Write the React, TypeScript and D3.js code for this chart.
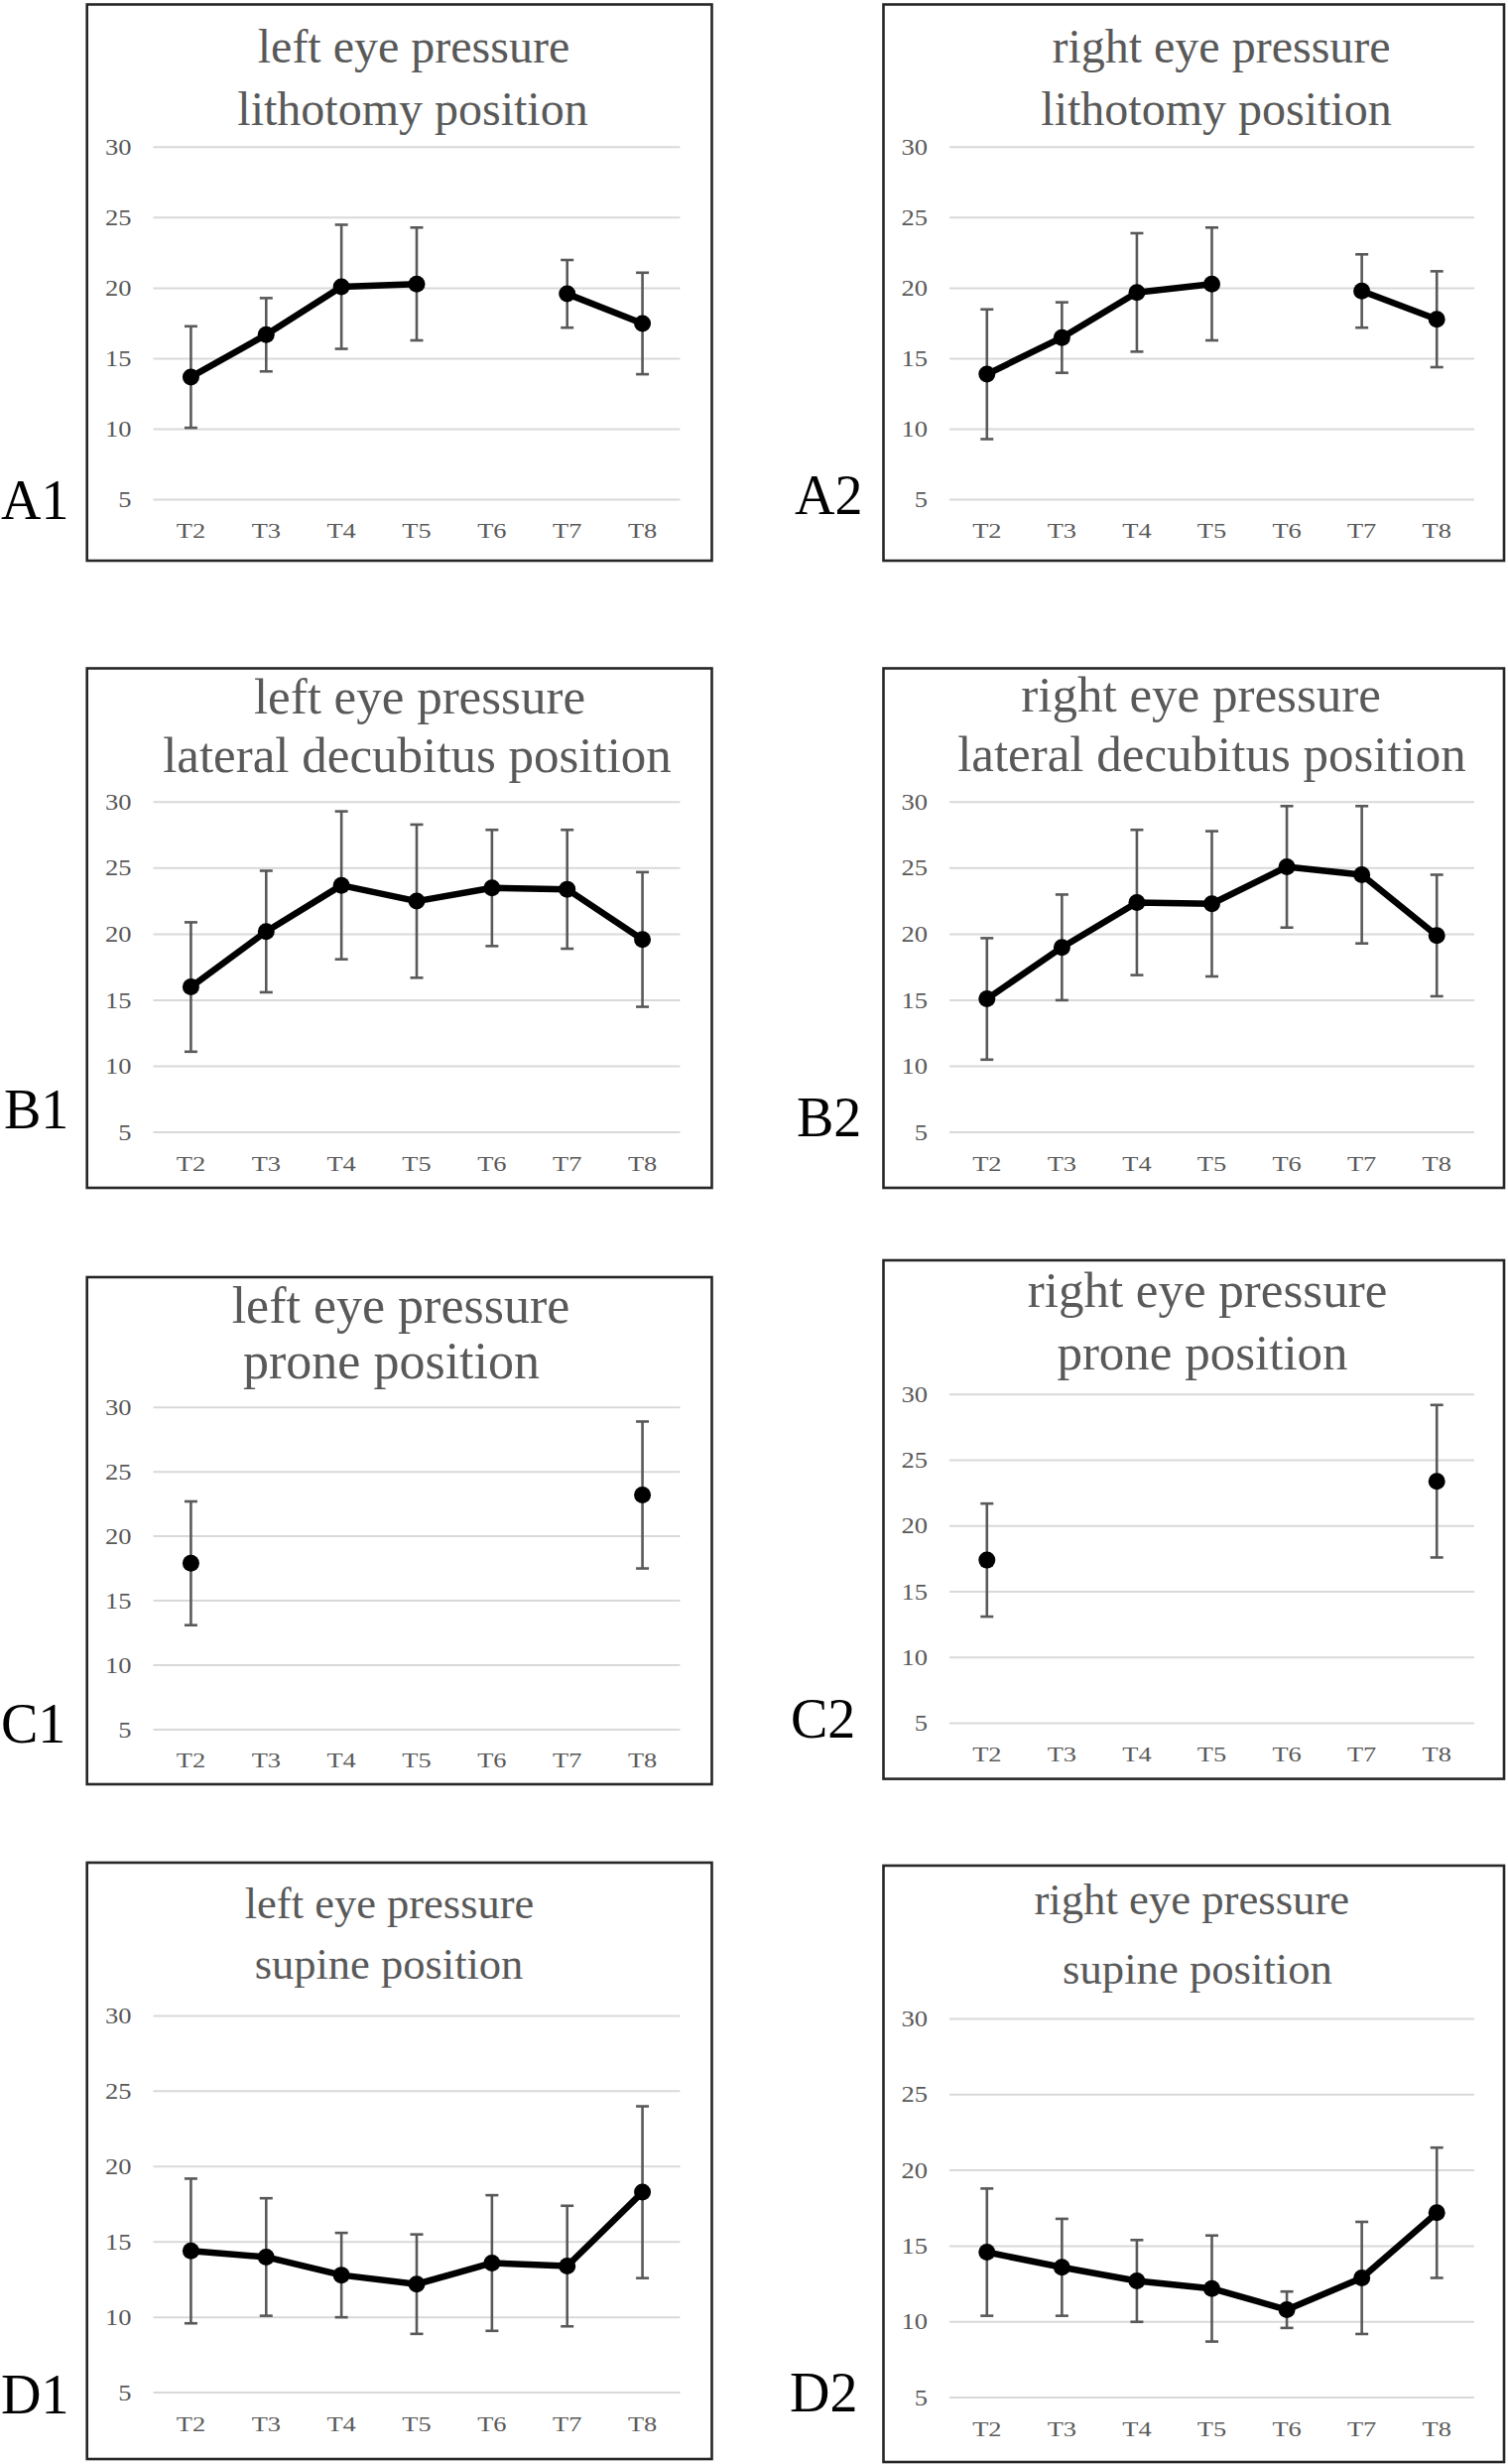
import React from "react";
import * as d3 from "d3";

const categories = ["T2", "T3", "T4", "T5", "T6", "T7", "T8"];
const yTicks = [5, 10, 15, 20, 25, 30];

// A: lithotomy position
const a1Mean = [13.7, 16.7, 20.1, 20.3, null, 19.6, 17.5];
const a1Sd = [3.6, 2.6, 4.4, 4.0, null, 2.4, 3.6];
const a2Mean = [13.9, 16.5, 19.7, 20.3, null, 19.8, 17.8];
const a2Sd = [4.6, 2.5, 4.2, 4.0, null, 2.6, 3.4];
// B: lateral decubitus position
const b1Mean = [16.0, 20.2, 23.7, 22.5, 23.5, 23.4, 19.6];
const b1Sd = [4.9, 4.6, 5.6, 5.8, 4.4, 4.5, 5.1];
const b2Mean = [15.1, 19.0, 22.4, 22.3, 25.1, 24.5, 19.9];
const b2Sd = [4.6, 4.0, 5.5, 5.5, 4.6, 5.2, 4.6];
// C: prone position
const c1Mean = [17.9, null, null, null, null, null, 23.2];
const c1Sd = [4.8, null, null, null, null, null, 5.7];
const c2Mean = [17.4, null, null, null, null, null, 23.4];
const c2Sd = [4.3, null, null, null, null, null, 5.8];
// D: supine position
const d1Mean = [14.4, 14.0, 12.8, 12.2, 13.6, 13.4, 18.3];
const d1Sd = [4.8, 3.9, 2.8, 3.3, 4.5, 4.0, 5.7];
const d2Mean = [14.6, 13.6, 12.7, 12.2, 10.8, 12.9, 17.2];
const d2Sd = [4.2, 3.2, 2.7, 3.5, 1.2, 3.7, 4.3];

const titlesLeft = "left eye pressure";
const titlesRight = "right eye pressure";

type Panel = {
  id: string;
  mean: (number | null)[];
  sd: (number | null)[];
  title: string[];
  box: [number, number, number, number];
  grid: [number, number];
  y30: number;
  y5: number;
  titleSize: number;
  titleX: [number, number];
  titleY: [number, number];
  labelX: number;
  labelY: number;
};

const LEFT_BOX: [number, number] = [87.7, 717.5];
const RIGHT_BOX: [number, number] = [890.5, 1516];
const LEFT_GRID: [number, number] = [154.5, 685.5];
const RIGHT_GRID: [number, number] = [957, 1486];

const panels: Panel[] = [
  { id: "A1", mean: a1Mean, sd: a1Sd, title: [titlesLeft, "lithotomy position"], box: [LEFT_BOX[0], 4.5, LEFT_BOX[1], 565], grid: LEFT_GRID, y30: 148.3, y5: 503.6, titleSize: 48, titleX: [417, 416], titleY: [63, 126], labelX: 1, labelY: 522.7 },
  { id: "A2", mean: a2Mean, sd: a2Sd, title: [titlesRight, "lithotomy position"], box: [RIGHT_BOX[0], 4.5, RIGHT_BOX[1], 565], grid: RIGHT_GRID, y30: 148.3, y5: 503.6, titleSize: 48, titleX: [1231, 1226], titleY: [62.5, 126], labelX: 801, labelY: 518 },
  { id: "B1", mean: b1Mean, sd: b1Sd, title: [titlesLeft, "lateral decubitus position"], box: [LEFT_BOX[0], 673.5, LEFT_BOX[1], 1197], grid: LEFT_GRID, y30: 808.3, y5: 1141, titleSize: 51, titleX: [423, 420.5], titleY: [719, 777.5], labelX: 4, labelY: 1137 },
  { id: "B2", mean: b2Mean, sd: b2Sd, title: [titlesRight, "lateral decubitus position"], box: [RIGHT_BOX[0], 673.5, RIGHT_BOX[1], 1197], grid: RIGHT_GRID, y30: 808.3, y5: 1141, titleSize: 51, titleX: [1210.6, 1221.5], titleY: [716.5, 777], labelX: 803, labelY: 1144.8 },
  { id: "C1", mean: c1Mean, sd: c1Sd, title: [titlesLeft, "prone position"], box: [LEFT_BOX[0], 1287, LEFT_BOX[1], 1798], grid: LEFT_GRID, y30: 1418.2, y5: 1742.9, titleSize: 52, titleX: [404, 394.5], titleY: [1332.5, 1389], labelX: 1, labelY: 1756 },
  { id: "C2", mean: c2Mean, sd: c2Sd, title: [titlesRight, "prone position"], box: [RIGHT_BOX[0], 1270, RIGHT_BOX[1], 1792.6], grid: RIGHT_GRID, y30: 1405.2, y5: 1736.4, titleSize: 51, titleX: [1217, 1212], titleY: [1316.5, 1380], labelX: 797, labelY: 1750.5 },
  { id: "D1", mean: d1Mean, sd: d1Sd, title: [titlesLeft, "supine position"], box: [LEFT_BOX[0], 1877, LEFT_BOX[1], 2478], grid: LEFT_GRID, y30: 2031.4, y5: 2411.1, titleSize: 44.5, titleX: [392.5, 392], titleY: [1933, 1994.3], labelX: 1, labelY: 2432 },
  { id: "D2", mean: d2Mean, sd: d2Sd, title: [titlesRight, "supine position"], box: [RIGHT_BOX[0], 1880, RIGHT_BOX[1], 2481], grid: RIGHT_GRID, y30: 2034.4, y5: 2416.1, titleSize: 44.7, titleX: [1201.3, 1207], titleY: [1929.3, 1999.3], labelX: 796, labelY: 2430 },
];

const FONT = "'Liberation Serif', 'Times New Roman', serif";
const GRAY = "#595959";

function PanelChart({ p }: { p: Panel }) {
  const x = d3.scaleBand<string>().domain(categories).range(p.grid).padding(0);
  const y = d3.scaleLinear().domain([5, 30]).range([p.y5, p.y30]);
  const cx = (c: string) => (x(c) as number) + x.bandwidth() / 2;
  const pts = categories.map((c, i) => ({ c, v: p.mean[i], s: p.sd[i] }));
  const line = d3
    .line<{ c: string; v: number | null }>()
    .defined((d) => d.v != null)
    .x((d) => cx(d.c))
    .y((d) => y(d.v as number));
  const [bx0, by0, bx1, by1] = p.box;
  const cap = 6.5;
  return (
    <g>
      <rect x={bx0} y={by0} width={bx1 - bx0} height={by1 - by0} fill="#fff" stroke="#262626" strokeWidth={2.6} />
      {p.title.map((t, i) => (
        <text key={i} x={p.titleX[i]} y={p.titleY[i]} textAnchor="middle" fontFamily={FONT} fontSize={p.titleSize} fill={GRAY}>
          {t}
        </text>
      ))}
      {yTicks.map((t) => (
        <g key={t}>
          <line x1={p.grid[0]} x2={p.grid[1]} y1={y(t)} y2={y(t)} stroke="#d9d9d9" strokeWidth={2} />
          <text
            transform={`translate(${p.grid[0] - 22},${y(t) + 7.6}) scale(1.18,1)`}
            textAnchor="end"
            fontFamily={FONT}
            fontSize={22.5}
            fill={GRAY}
          >
            {t}
          </text>
        </g>
      ))}
      {categories.map((c) => (
        <text
          key={c}
          transform={`translate(${cx(c)},${p.y5 + 38.5}) scale(1.2,1)`}
          textAnchor="middle"
          fontFamily={FONT}
          fontSize={22}
          fill={GRAY}
        >
          {c}
        </text>
      ))}
      {pts
        .filter((d) => d.v != null && d.s != null)
        .map((d) => {
          const xx = cx(d.c);
          const hi = y((d.v as number) + (d.s as number));
          const lo = y((d.v as number) - (d.s as number));
          return (
            <g key={d.c} stroke={GRAY} strokeWidth={2.6}>
              <line x1={xx} x2={xx} y1={hi} y2={lo} />
              <line x1={xx - cap} x2={xx + cap} y1={hi} y2={hi} />
              <line x1={xx - cap} x2={xx + cap} y1={lo} y2={lo} />
            </g>
          );
        })}
      <path d={line(pts) || ""} fill="none" stroke="#000" strokeWidth={6.5} strokeLinejoin="round" />
      {pts
        .filter((d) => d.v != null)
        .map((d) => (
          <circle key={d.c} cx={cx(d.c)} cy={y(d.v as number)} r={8.5} fill="#000" />
        ))}
      <text x={p.labelX} y={p.labelY} fontFamily={FONT} fontSize={56} fill="#000">
        {p.id}
      </text>
    </g>
  );
}

export default function App() {
  return (
    <svg
      width={1520}
      height={2483}
      viewBox="0 0 1520 2483"
      style={{ position: "absolute", left: 0, top: 0, background: "#fff" }}
    >
      <rect x={0} y={0} width={1520} height={2483} fill="#fff" />
      {panels.map((p) => (
        <PanelChart key={p.id} p={p} />
      ))}
    </svg>
  );
}
